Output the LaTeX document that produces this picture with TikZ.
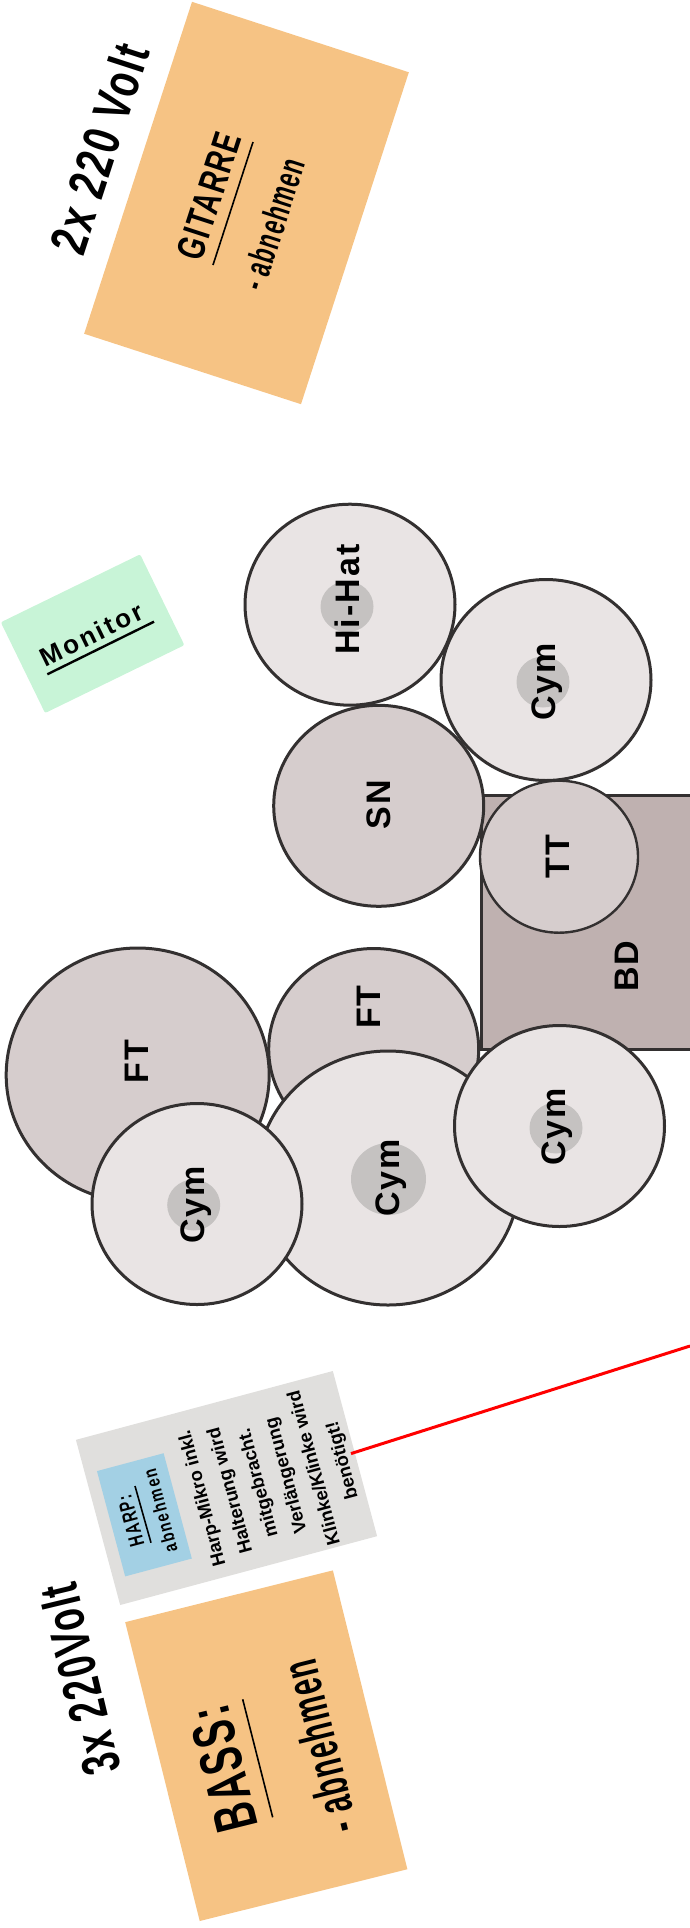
\documentclass[tikz,border=0pt]{standalone}
\usepackage{fontspec}
\usetikzlibrary{shapes.geometric}
\setmainfont{Liberation Sans}
\newfontfamily\drumfont[LetterSpace=6]{Liberation Sans}
\newfontfamily\monfont[LetterSpace=10]{Liberation Sans}
\newfontfamily\harpfont[LetterSpace=12]{Liberation Sans}
\newfontfamily\trackfont[LetterSpace=6]{Liberation Sans}
\newcommand{\squeeze}[2]{\scalebox{#1}[1]{#2}}
\definecolor{amp}{HTML}{F6C384}
\definecolor{note}{HTML}{E0DFDD}
\definecolor{harpblue}{HTML}{A3D0E4}
\definecolor{mon}{HTML}{C8F4D7}
\definecolor{cym}{HTML}{E9E4E4}
\definecolor{drum}{HTML}{D6CDCD}
\definecolor{kick}{HTML}{BFB1B0}
\definecolor{bell}{HTML}{C5C2C1}
\definecolor{edge}{HTML}{333030}
\tikzstyle{cable} = [line width=3pt,red]
\tikzstyle{rule} = [line width=1.6pt,black]

\begin{document}
\begin{tikzpicture} [
    x=1pt,y=-1pt,
    box/.style={rectangle,inner sep=0,outer sep=0},
    drumshell/.style={ellipse,draw=edge,line width=3pt,fill=drum,inner sep=0,outer sep=0,minimum width=210pt,minimum height=201pt},
    cymshell/.style={drumshell,fill=cym},
    large/.style={minimum width=263pt,minimum height=254pt},
    bellcup/.style={ellipse,fill=bell,inner sep=0,outer sep=0,minimum width=53pt,minimum height=51pt},
    lab/.style={anchor=base,rotate=90,inner sep=0,outer sep=0,font=\drumfont\bfseries\fontsize{34}{34}\selectfont},
    txt/.style={anchor=base,inner sep=0,outer sep=0},
    ]
    \useasboundingbox (0,0) rectangle (690,1928);

    % amps
    \node [box,fill=amp,minimum width=349pt,minimum height=228pt,rotate=72] (gitarre) at (246.5,203) {};
    \node [box,fill=amp,minimum width=308pt,minimum height=214pt,rotate=104] (bass) at (266.3,1745.7) {};
    \node [box,fill=mon,rounded corners=2pt,minimum width=155pt,minimum height=101pt,rotate=26] (monitor) at (92.6,633.7) {};

    % harp
    \node [box,fill=note,minimum width=171pt,minimum height=266pt,rotate=105] (harp) at (226.5,1488) {};
    \node [box,fill=harpblue,minimum width=109pt,minimum height=69pt,rotate=105] (harpname) at (144.4,1514.8) {};

    % drums
    \node [cymshell] (hihat) at (350,604.7) {};
    \node [bellcup] (hihatbell) at (347,606.7) {};
    \node [cymshell] (cymA) at (546,680) {};
    \node [bellcup] (cymAbell) at (543,682) {};
    \node [box,draw=edge,line width=3pt,fill=kick,minimum width=212pt,minimum height=254pt,anchor=north west] (bd) at (481,795) {};
    \node [drumshell] (sn) at (378.7,805.8) {};
    \node [drumshell,line width=2.4pt,minimum width=158pt,minimum height=152pt] (tt) at (559,856.7) {};
    \node [drumshell,large] (ftA) at (137.7,1075) {};
    \node [drumshell] (ftB) at (373.7,1049) {};
    \node [cymshell,large] (cymB) at (388,1178) {};
    \node [bellcup,minimum width=75pt,minimum height=72pt] (cymBbell) at (388.5,1179) {};
    \node [cymshell] (cymC) at (197,1204) {};
    \node [bellcup] (cymCbell) at (193.7,1205) {};
    \node [cymshell] (cymD) at (559.5,1126) {};
    \node [bellcup] (cymDbell) at (556,1128) {};

    \node [lab] (hihatlab) at (359.3,599.5) {Hi-Hat};
    \node [lab] (cymAlab) at (555,681.7) {Cym};
    \node [lab] (snlab) at (390.7,804.7) {SN};
    \node [lab] (ttlab) at (569.3,856.7) {TT};
    \node [lab] (bdlab) at (638,966) {BD};
    \node [lab] (ftAlab) at (148.8,1061.7) {FT};
    \node [lab] (ftBlab) at (380.7,1007) {FT};
    \node [lab] (cymBlab) at (399.6,1178) {Cym};
    \node [lab] (cymClab) at (204.7,1205) {Cym};
    \node [lab] (cymDlab) at (565.6,1126.7) {Cym};

    % texts
    \node [txt,rotate=72,font=\trackfont\bfseries\fontsize{52}{52}\selectfont] (voltA) at (116.7,154) {\squeeze{.74}{2x 220 Volt}};
    \node [txt,rotate=72,font=\trackfont\bfseries\fontsize{39}{39}\selectfont] (gitlab) at (222,200) {\squeeze{.7}{GITARRE}};
    \node [txt,rotate=72,font=\trackfont\bfseries\fontsize{36}{36}\selectfont] (gitsub) at (285,228) {\squeeze{.62}{- abnehmen}};
    \node [txt,rotate=103.5,font=\trackfont\bfseries\fontsize{54}{54}\selectfont] (voltB) at (98.3,1675) {\squeeze{.675}{3x 220Volt}};
    \node [txt,rotate=104,font=\trackfont\bfseries\fontsize{60}{60}\selectfont] (basslab) at (243,1764) {\squeeze{.63}{BASS:}};
    \node [txt,rotate=104,font=\trackfont\bfseries\fontsize{50}{50}\selectfont] (basssub) at (336.7,1743) {\squeeze{.58}{- abnehmen}};
    \node [txt,rotate=26,font=\monfont\bfseries\fontsize{26}{26}\selectfont] (monlab) at (95.7,642.7) {Monitor};
    \node [txt,rotate=105,font=\harpfont\bfseries\fontsize{21}{21}\selectfont] (harplab) at (137.7,1519) {\squeeze{.695}{HARP:}};
    \node [txt,rotate=105,font=\harpfont\bfseries\fontsize{19}{19}\selectfont] (harpsub) at (166.7,1509) {\squeeze{.77}{abnehmen}};
    \node [rotate=105,inner sep=0,align=center,font=\bfseries\fontsize{18.5}{29}\selectfont] (harptext) at (273,1479) {Harp-Mikro inkl.\\Halterung wird\\mitgebracht.\\Verlängerung\\Klinke/Klinke wird\\benötigt!};

    % rules
    \coordinate (gitA) at (213,265);
    \coordinate (gitB) at (253,142);
    \coordinate (bassA) at (272.7,1817.3);
    \coordinate (bassB) at (242.7,1699.3);
    \coordinate (monA) at (47.3,674.3);
    \coordinate (monB) at (154,621.7);
    \coordinate (harpA) at (151,1542.7);
    \coordinate (harpB) at (135,1486);
    \draw[rule] (gitA) -- (gitB);
    \draw[rule] (bassA) -- (bassB);
    \draw[rule,line width=2.4pt] (monA) -- (monB);
    \draw[rule] (harpA) -- (harpB);

    \coordinate (cableend) at (690,1346);
    \draw[cable] ([xshift=-4pt]harp.south) -- (cableend);
\end{tikzpicture}
\end{document}
